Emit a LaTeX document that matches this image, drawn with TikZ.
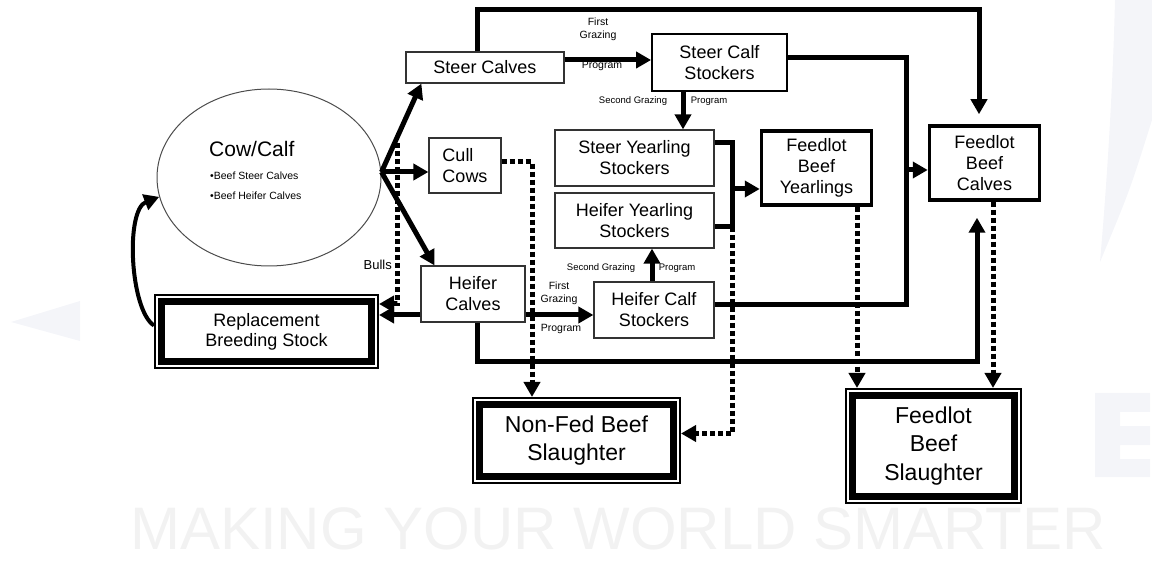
\documentclass[tikz,border=0pt]{standalone}
\usepackage{fontspec}
\setmainfont{Liberation Sans}
\usetikzlibrary{arrows.meta,shapes.geometric,backgrounds}
\definecolor{wmark}{RGB}{244,245,249}

\begin{document}
\begin{tikzpicture}[x=1pt,y=-1pt,
    box/.style={draw=black!80,line width=1.2pt,align=center,inner sep=0pt,
      font=\fontsize{18}{21}\selectfont},
    fatbox/.style={box,draw=black,line width=3.5pt},
    endbox/.style={align=center,inner sep=0pt,outer sep=11pt,
      font=\fontsize{23}{28.5}\selectfont},
    note/.style={inner sep=0pt,align=center,font=\fontsize{10.5}{13}\selectfont},
    flow/.style={line width=5pt},
    dotflow/.style={line width=5pt,dash pattern=on 5pt off 3pt},
    headed/.style={-{Triangle[length=15pt,width=16pt]}}]

  \useasboundingbox (0,0) rectangle (1152,561);

  \node[ellipse,draw=black!70,line width=1pt,minimum width=224,minimum height=177] (cow) at (269,177.5) {};
  \node[anchor=base west,inner sep=0pt,font=\fontsize{21}{21}\selectfont] (cowname) at (209,157) {Cow/Calf};
  \node[anchor=base west,inner sep=0pt,font=\fontsize{10.5}{10.5}\selectfont] (cowsteer) at (210,180) {•Beef Steer Calves};
  \node[anchor=base west,inner sep=0pt,font=\fontsize{10.5}{10.5}\selectfont] (cowheifer) at (210,200) {•Beef Heifer Calves};

  \foreach \nm/\x/\y/\w/\h/\txt in {scalves/485/67.5/158/31/{Steer Calves},
      sys/634.5/158/159/56/{Steer Yearling\\Stockers},
      hys/634.5/220.5/159/55/{Heifer Yearling\\Stockers},
      hcalves/473/294/104/56/{Heifer\\Calves},
      hcstock/654/310/120/56/{Heifer Calf\\Stockers}}
    \node[box,minimum width=\w,minimum height=\h] (\nm) at (\x,\y) {\txt};

  \node[box,draw=black,line width=1.8pt,minimum width=135,minimum height=57] (scstock) at (719.5,62.5) {Steer Calf\\Stockers};
  \node[box,align=left,minimum width=72,minimum height=55] (cull) at (465,165.5) {Cull\\Cows};
  \node[fatbox,minimum width=110,minimum height=74] (fbyear) at (816.5,168) {Feedlot\\Beef\\Yearlings};
  \node[fatbox,minimum width=110,minimum height=74] (fbcalves) at (984.5,163) {Feedlot\\Beef\\Calves};
  \node[endbox,minimum width=203,minimum height=53,font=\fontsize{18}{20}\selectfont] (repl) at (266.5,331.5) {Replacement\\Breeding Stock};
  \node[endbox,minimum width=187,minimum height=65] (nonfed) at (576.5,440.5) {Non-Fed Beef\\Slaughter};
  \node[endbox,minimum width=155,minimum height=94] (fslaught) at (933.5,446) {Feedlot\\Beef\\Slaughter};

  \node[note] (fg1) at (598,29) {First\\Grazing};
  \node[note] (pg1) at (602,66) {Program};
  \node[note,font=\fontsize{9.5}{9.5}\selectfont] (sg1) at (633,101) {Second Grazing};
  \node[note,font=\fontsize{9.5}{9.5}\selectfont] (pg2) at (709,101) {Program};
  \node[note] (fg2) at (559,293) {First\\Grazing};
  \node[note] (pg3) at (561,329) {Program};
  \node[note,font=\fontsize{9.5}{9.5}\selectfont] (sg2) at (601,268) {Second Grazing};
  \node[note,font=\fontsize{9.5}{9.5}\selectfont] (pg4) at (677,268) {Program};
  \node[anchor=base east,inner sep=0pt,font=\fontsize{13}{13}\selectfont] (bulls) at (392,270) {Bulls};

  \coordinate (loopt) at (700,10);
  \coordinate (loopb) at (600,362);
  \coordinate (jc) at (906,170);
  \coordinate (jy) at (732,189);
  \coordinate (bt) at (397,143);
  \coordinate (cs) at ([yshift=5.5]cow.east);

  \draw[flow,headed,shorten >=10pt] ([xshift=-8]scalves.north) |- (loopt) -| ([xshift=-5.5]fbcalves.north);
  \draw[flow,headed] ([yshift=2.5]scstock.west -| scalves.east) -- ([yshift=2.5]scstock.west);
  \draw[flow,headed] ([xshift=-36.5]scstock.south) -- ([xshift=-36.5]scstock.south |- sys.north);
  \draw[flow] ([yshift=4.5]scstock.east) -| (jc) |- ([yshift=5]hcstock.east);
  \draw[flow,headed] (jc) -- (jc -| fbcalves.west);
  \draw[flow] ([yshift=15]sys.east) -| (jy) |- ([yshift=-6.5]hys.east);
  \draw[flow,headed] (jy) -- (jy -| fbyear.west);
  \draw[flow,headed,shorten >=16pt] ([xshift=4]hcalves.south) |- (loopb) -| ([xshift=-7.5]fbcalves.south);
  \draw[flow,headed] ([yshift=-21]hcalves.east) -- ([yshift=-21]hcalves.east -| hcstock.west);
  \draw[flow,headed] ([xshift=-2]hcstock.north) -- ([xshift=-2]hcstock.north |- hys.south);
  \draw[flow,headed] ([yshift=-21]hcalves.west) -- ([yshift=-21]hcalves.west -| repl.east);
  \draw[flow,headed] (cs) -- ([xshift=16]scalves.south west);
  \draw[flow,headed] (cs) -- (cs -| cull.west);
  \draw[flow,headed] (cs) -- ([xshift=14]hcalves.north west);
  \draw[line width=4pt,headed] ([yshift=6]repl.west) .. controls (130,310) and (125,210) .. (cow.190);

  \draw[dotflow,headed] ([yshift=-6.5]hys.east -| jy) |- ([yshift=7]nonfed.east);
  \draw[dotflow,headed] ([xshift=40.5]fbyear.south) -- ([xshift=40.5]fbyear.south |- fslaught.north);
  \draw[dotflow,headed] ([xshift=8.5]fbcalves.south) -- ([xshift=8.5]fbcalves.south |- fslaught.north);
  \draw[dotflow,headed] (bt) |- ([yshift=-10]repl.north east);
  \draw[dotflow,headed] ([yshift=3.5]cull.east) -| ([xshift=-44.5]nonfed.north);

  \begin{scope}[on background layer]
    \fill[wmark] (11,322) -- (80,301) -- (80,341) -- cycle;
    \fill[wmark] (1115,0) -- (1152,0) -- (1152,120) .. controls (1130,190) .. (1100,262) .. controls (1108,170) and (1113,80) .. (1115,0);
    \fill[wmark] (1095,393) -| (1150,412) -| (1120,426) -| (1150,445) -| (1120,459) -| (1150,477) -- (1095,477) -- cycle;
    \node[anchor=base west,inner sep=0pt,text=black!5,font=\fontsize{60}{60}\selectfont] (slogan) at (130,549) {MAKING YOUR WORLD SMARTER};
    \foreach \n in {repl,nonfed,fslaught}{
      \fill (\n.north west) rectangle (\n.south east);
      \draw[white,line width=1.2pt] ([shift={(3,3)}]\n.north west) rectangle ([shift={(-3,-3)}]\n.south east);
      \fill[white] ([shift={(11,11)}]\n.north west) rectangle ([shift={(-11,-11)}]\n.south east);
    }
  \end{scope}
\end{tikzpicture}
\end{document}
